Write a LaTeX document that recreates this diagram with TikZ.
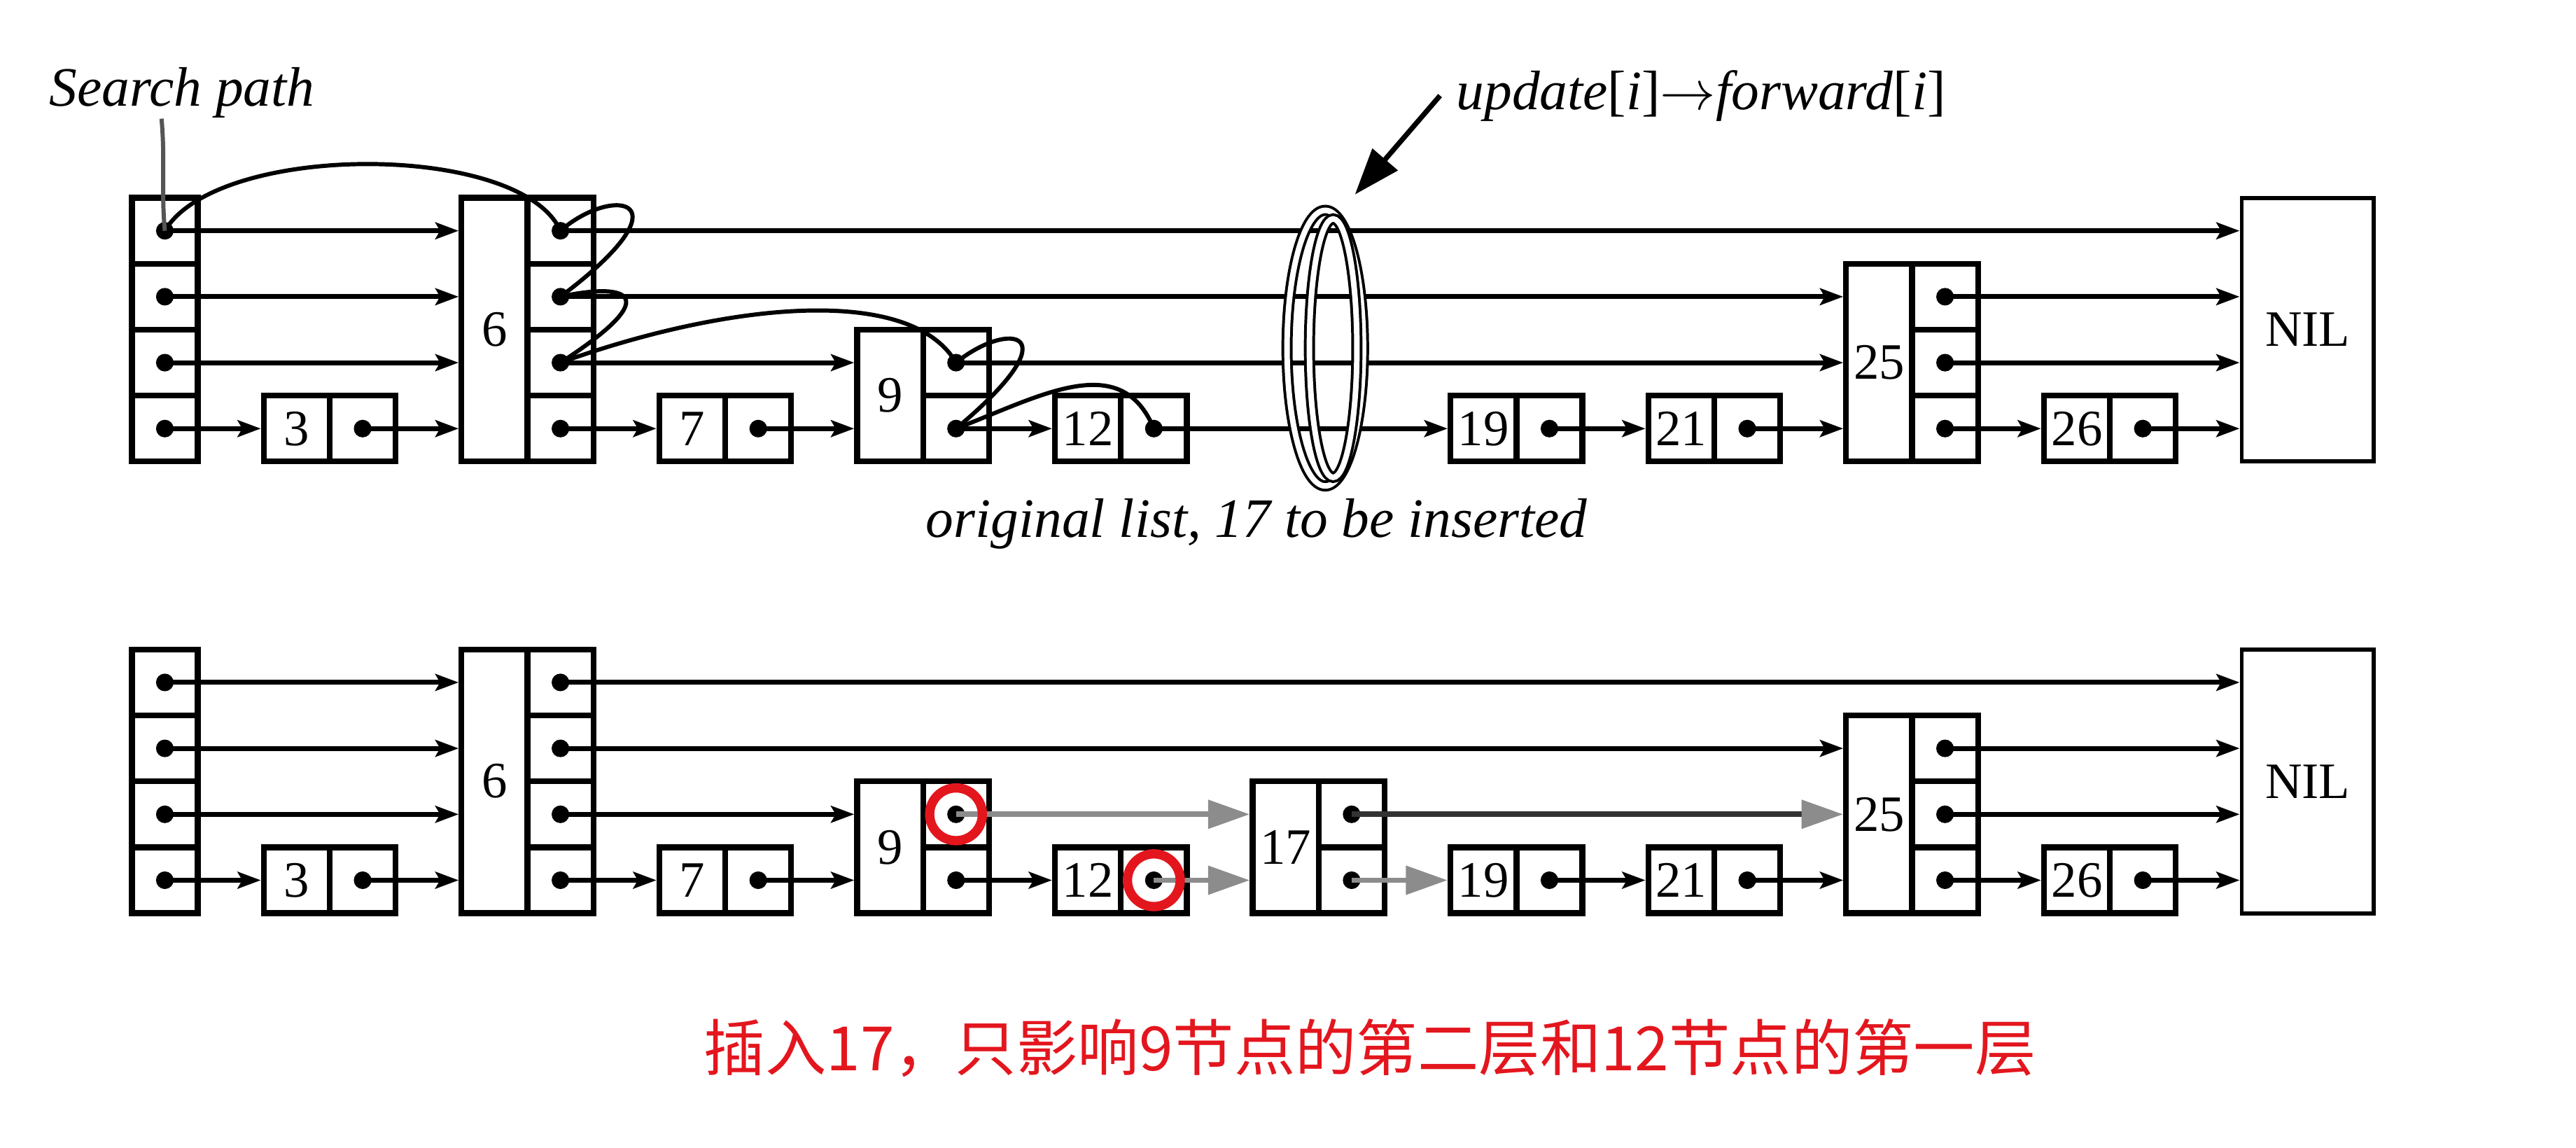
\documentclass[tikz,border=0pt]{standalone}
\usepackage{fontspec}
\setmainfont{Liberation Serif}
\newfontfamily\cjk{Noto Sans CJK SC}
\usetikzlibrary{arrows.meta,shapes.geometric}
\definecolor{Mark}{HTML}{E3161E}
\definecolor{NewLink}{HTML}{8C8C8C}
\definecolor{Pointer}{HTML}{555555}
\tikzset{
  keybox/.style={draw,line width=1.25pt,minimum width=.5cm,minimum height=#1*.5cm,inner sep=0pt,font=\fontsize{11}{12}\selectfont},
  keybox/.default=1,
  ptrcell/.style={draw,line width=1.25pt,minimum width=.5cm,minimum height=.5cm,inner sep=0pt,
    path picture={\fill (path picture bounding box.center) circle (1.9pt);}},
  nilbox/.style={draw,line width=.9pt,minimum width=1cm,minimum height=2cm,inner sep=0pt,font=\fontsize{11}{12}\selectfont},
  link/.style={-{Stealth[length=5pt,width=3.6pt,inset=1pt]},line width=1.05pt},
  newlink/.style={-{Triangle[length=9pt,width=6pt,color=NewLink]},draw=NewLink,line width=1.2pt},
  searchpath/.style={line width=.9pt},
  loopring/.style={ellipse,draw,line width=.6pt,double=white,double distance=1.2pt,inner sep=0pt},
  callout/.style={-{Triangle[length=10pt,width=7pt]},line width=1.1pt},
  hilite/.style={draw=Mark,line width=2pt},
  lab/.style={font=\itshape\fontsize{12}{14}\selectfont},
}

\begin{document}
\begin{tikzpicture}[x=.5cm,y=-.5cm]
  \useasboundingbox (0,0) rectangle (39.07,17.41);

  % original list
  \node[ptrcell] (th4) at (2.5,3.5) {};
  \node[ptrcell] (th3) at (2.5,4.5) {};
  \node[ptrcell] (th2) at (2.5,5.5) {};
  \node[ptrcell] (th1) at (2.5,6.5) {};
  \node[keybox] (t3) at (4.5,6.5) {3};    \node[ptrcell] (t3a) at (5.5,6.5) {};
  \node[keybox=4] (t6) at (7.5,5) {6};
  \node[ptrcell] (t6a) at (8.5,6.5) {};  \node[ptrcell] (t6b) at (8.5,5.5) {};
  \node[ptrcell] (t6c) at (8.5,4.5) {};  \node[ptrcell] (t6d) at (8.5,3.5) {};
  \node[keybox] (t7) at (10.5,6.5) {7};   \node[ptrcell] (t7a) at (11.5,6.5) {};
  \node[keybox=2] (t9) at (13.5,6) {9};
  \node[ptrcell] (t9a) at (14.5,6.5) {};  \node[ptrcell] (t9b) at (14.5,5.5) {};
  \node[keybox] (t12) at (16.5,6.5) {12}; \node[ptrcell] (t12a) at (17.5,6.5) {};
  \node[keybox] (t19) at (22.5,6.5) {19}; \node[ptrcell] (t19a) at (23.5,6.5) {};
  \node[keybox] (t21) at (25.5,6.5) {21}; \node[ptrcell] (t21a) at (26.5,6.5) {};
  \node[keybox=3] (t25) at (28.5,5.5) {25};
  \node[ptrcell] (t25a) at (29.5,6.5) {}; \node[ptrcell] (t25b) at (29.5,5.5) {};
  \node[ptrcell] (t25c) at (29.5,4.5) {};
  \node[keybox] (t26) at (31.5,6.5) {26}; \node[ptrcell] (t26a) at (32.5,6.5) {};
  \node[nilbox] (tnil) at (35,5) {NIL};

  \draw[link] (th4.center) -- (t6.west |- th4);
  \draw[link] (th3.center) -- (t6.west |- th3);
  \draw[link] (th2.center) -- (t6.west |- th2);
  \draw[link] (th1.center) -- (t3.west);
  \draw[link] (t3a.center) -- (t6.west |- t3a);
  \draw[link] (t6d.center) -- (tnil.west |- t6d);
  \draw[link] (t6c.center) -- (t25.west |- t6c);
  \draw[link] (t6b.center) -- (t9.west |- t6b);
  \draw[link] (t6a.center) -- (t7.west);
  \draw[link] (t7a.center) -- (t9.west |- t7a);
  \draw[link] (t9b.center) -- (t25.west |- t9b);
  \draw[link] (t9a.center) -- (t12.west);
  \draw[link] (t12a.center) -- (t19.west);
  \draw[link] (t19a.center) -- (t21.west);
  \draw[link] (t21a.center) -- (t25.west |- t21a);
  \draw[link] (t25c.center) -- (tnil.west |- t25c);
  \draw[link] (t25b.center) -- (tnil.west |- t25b);
  \draw[link] (t25a.center) -- (t26.west);
  \draw[link] (t26a.center) -- (tnil.west |- t26a);

  % ring of update pointers
  \node[loopring,minimum width=.58cm,minimum height=2.09cm] (ringout) at (20.1,5.28) {};
  \node[loopring,minimum width=.36cm,minimum height=1.96cm] (ringin) at (20.22,5.28) {};

  % search path
  \draw[searchpath] (th4.center) .. controls (3.3,2.15) and (7.9,2.15) .. (t6d.center);
  \draw[searchpath] (t6d.center) .. controls (9.3,2.8) and (10.5,3.0) .. (t6c.center);
  \draw[searchpath] (t6c.center) .. controls (9.4,4.3) and (10.2,4.4) .. (t6b.center);
  \draw[searchpath] (t6b.center) .. controls (11,4.6) and (13.8,4.3) .. (t9b.center);
  \draw[searchpath] (t9b.center) .. controls (15.3,4.85) and (16.3,5.0) .. (t9a.center);
  \draw[searchpath] (t9a.center) .. controls (15.8,6.0) and (17.0,5.3) .. (t12a.center);

  \node[lab] (spath) at (2.76,1.4) {Search path};
  \coordinate (spt) at (2.45,1.8);
  \draw[draw=Pointer,line width=.9pt] (spt) to[out=-85,in=95] (th4.center);
  \node[lab] (upd) at (25.8,1.45) {update\textup{[}i\textup{]}$\rightarrow$forward\textup{[}i\textup{]}};
  \coordinate (tip) at (20.55,2.95);
  \draw[callout] (upd.west) -- (tip);
  \node[lab] (orig) at (19.06,7.94) {original list, 17 to be inserted};

  % list after inserting 17
  \node[ptrcell] (bh4) at (2.5,10.35) {};
  \node[ptrcell] (bh3) at (2.5,11.35) {};
  \node[ptrcell] (bh2) at (2.5,12.35) {};
  \node[ptrcell] (bh1) at (2.5,13.35) {};
  \node[keybox] (b3) at (4.5,13.35) {3};    \node[ptrcell] (b3a) at (5.5,13.35) {};
  \node[keybox=4] (b6) at (7.5,11.85) {6};
  \node[ptrcell] (b6a) at (8.5,13.35) {};  \node[ptrcell] (b6b) at (8.5,12.35) {};
  \node[ptrcell] (b6c) at (8.5,11.35) {};  \node[ptrcell] (b6d) at (8.5,10.35) {};
  \node[keybox] (b7) at (10.5,13.35) {7};   \node[ptrcell] (b7a) at (11.5,13.35) {};
  \node[keybox=2] (b9) at (13.5,12.85) {9};
  \node[ptrcell] (b9a) at (14.5,13.35) {};  \node[ptrcell] (b9b) at (14.5,12.35) {};
  \node[keybox] (b12) at (16.5,13.35) {12}; \node[ptrcell] (b12a) at (17.5,13.35) {};
  \node[keybox=2] (b17) at (19.5,12.85) {17};
  \node[ptrcell] (b17a) at (20.5,13.35) {}; \node[ptrcell] (b17b) at (20.5,12.35) {};
  \node[keybox] (b19) at (22.5,13.35) {19}; \node[ptrcell] (b19a) at (23.5,13.35) {};
  \node[keybox] (b21) at (25.5,13.35) {21}; \node[ptrcell] (b21a) at (26.5,13.35) {};
  \node[keybox=3] (b25) at (28.5,12.35) {25};
  \node[ptrcell] (b25a) at (29.5,13.35) {}; \node[ptrcell] (b25b) at (29.5,12.35) {};
  \node[ptrcell] (b25c) at (29.5,11.35) {};
  \node[keybox] (b26) at (31.5,13.35) {26}; \node[ptrcell] (b26a) at (32.5,13.35) {};
  \node[nilbox] (bnil) at (35,11.85) {NIL};

  \draw[link] (bh4.center) -- (b6.west |- bh4);
  \draw[link] (bh3.center) -- (b6.west |- bh3);
  \draw[link] (bh2.center) -- (b6.west |- bh2);
  \draw[link] (bh1.center) -- (b3.west);
  \draw[link] (b3a.center) -- (b6.west |- b3a);
  \draw[link] (b6d.center) -- (bnil.west |- b6d);
  \draw[link] (b6c.center) -- (b25.west |- b6c);
  \draw[link] (b6b.center) -- (b9.west |- b6b);
  \draw[link] (b6a.center) -- (b7.west);
  \draw[link] (b7a.center) -- (b9.west |- b7a);
  \draw[link] (b9a.center) -- (b12.west);
  \draw[newlink] (b9b.center) -- (b17.west |- b9b);
  \draw[newlink] (b12a.center) -- (b17.west |- b12a);
  \draw[newlink,draw=black!80] (b17b.center) -- (b25.west |- b17b);
  \draw[newlink] (b17a.center) -- (b19.west);
  \draw[link] (b19a.center) -- (b21.west);
  \draw[link] (b21a.center) -- (b25.west |- b21a);
  \draw[link] (b25c.center) -- (bnil.west |- b25c);
  \draw[link] (b25b.center) -- (bnil.west |- b25b);
  \draw[link] (b25a.center) -- (b26.west);
  \draw[link] (b26a.center) -- (bnil.west |- b26a);

  \draw[hilite] (b9b.center) circle (.2cm);
  \draw[hilite] (b12a.center) circle (.2cm);

  \node[text=Mark,font=\cjk\fontsize{13.2}{16}\selectfont] (note) at (20.78,15.9) {插入17，只影响9节点的第二层和12节点的第一层};
\end{tikzpicture}
\end{document}
